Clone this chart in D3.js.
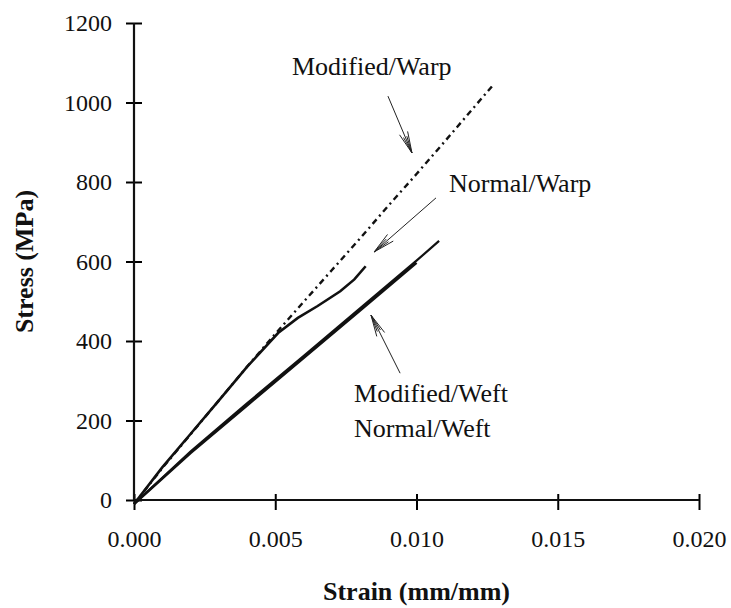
<!DOCTYPE html>
<html>
<head>
<meta charset="utf-8">
<script src="https://cdn.jsdelivr.net/npm/d3@7"></script>
<style>
  body { margin: 0; background: #fff; }
  text { font-family: "Liberation Serif", "Times New Roman", serif; fill: #111; }
</style>
</head>
<body>
<svg width="731" height="608"></svg>
<script>
var width = 731, height = 608;

// strain (mm/mm), stress (MPa)
var modifiedWarp = [[0,-10],[0.001,80],[0.002,165],[0.003,250],[0.004,335],[0.005,418],[0.006,498],
  [0.007,578],[0.008,658],[0.009,740],[0.010,820],[0.011,902],[0.012,985],[0.0127,1043]];
var normalWarp = [[0,-10],[0.001,82],[0.002,166],[0.003,250],[0.004,335],[0.0051,420],[0.0058,458],
  [0.0065,488],[0.0073,525],[0.0078,555],[0.0082,588]];
var modifiedWeft = [[0,-10],[0.002,122],[0.004,243],[0.006,362],[0.008,482],[0.010,602],[0.0108,652]];
var normalWeft = [[0,-10],[0.002,118],[0.004,238],[0.006,357],[0.008,477],[0.0100,597]];

var xTicks = [0, 0.005, 0.010, 0.015, 0.020];
var yTicks = [0, 200, 400, 600, 800, 1000, 1200];

// labels and arrows, in data units
var labels = [
  {text: "Modified/Warp", at: [0.00559, 1069]},
  {text: "Normal/Warp", at: [0.01115, 775]},
  {text: "Modified/Weft", at: [0.00779, 247]},
  {text: "Normal/Weft", at: [0.00779, 158]}
];
var arrows = [
  {from: [0.00899, 1016], to: [0.00984, 873]},
  {from: [0.01069, 760], to: [0.00850, 624]},
  {from: [0.00942, 319], to: [0.00839, 465]}
];

var svg = d3.select('svg');

var x = d3.scaleLinear().domain([0, 0.02]).range([134, 699]);
var y = d3.scaleLinear().domain([0, 1200]).range([500, 23]);

// axes
var yAxis = svg.append('g')
  .attr('transform', 'translate(134,0)')
  .call(d3.axisLeft(y).tickValues(yTicks).tickSize(8).tickPadding(14).tickFormat(d3.format('d')));
yAxis.select('.domain').remove();
yAxis.selectAll('.tick line').attr('x1', 8).attr('stroke-width', 2);
yAxis.selectAll('.tick text').style('font-size', '24px').attr('font-family', null);

var xAxis = svg.append('g')
  .attr('transform', 'translate(0,500)')
  .call(d3.axisBottom(x).tickValues(xTicks).tickSize(10).tickPadding(20).tickFormat(d3.format('.3f')));
xAxis.select('.domain').remove();
xAxis.selectAll('.tick line').attr('y1', -6).attr('stroke-width', 2);
xAxis.selectAll('.tick text').style('font-size', '24px').attr('font-family', null);

svg.append('line').attr('x1', x(0)).attr('x2', x(0)).attr('y1', y(0)).attr('y2', y(1200))
  .attr('stroke', '#111').attr('stroke-width', 2.2);
svg.append('line').attr('x1', x(0)).attr('x2', x(0.02)).attr('y1', y(0)).attr('y2', y(0))
  .attr('stroke', '#111').attr('stroke-width', 2.2);

// titles
svg.append('text')
  .attr('transform', 'translate(33,' + (y(0) + y(1200)) / 2 + ')rotate(-90)')
  .attr('text-anchor', 'middle')
  .style('font-size', '26px').style('font-weight', 'bold')
  .text('Stress (MPa)');
svg.append('text')
  .attr('x', (x(0) + x(0.02)) / 2).attr('y', 600)
  .attr('text-anchor', 'middle')
  .style('font-size', '26px').style('font-weight', 'bold')
  .text('Strain (mm/mm)');

// curves
var line = d3.line().x(function(d) { return x(d[0]); }).y(function(d) { return y(d[1]); });

svg.append('path').datum(normalWeft).attr('d', line)
  .attr('fill', 'none').attr('stroke', '#111').attr('stroke-width', 2.6);
svg.append('path').datum(modifiedWeft).attr('d', line)
  .attr('fill', 'none').attr('stroke', '#111').attr('stroke-width', 2.2);
svg.append('path').datum(normalWarp).attr('d', line)
  .attr('fill', 'none').attr('stroke', '#111').attr('stroke-width', 2.6);
svg.append('path').datum(modifiedWarp).attr('d', line)
  .attr('fill', 'none').attr('stroke', '#111').attr('stroke-width', 2.4)
  .attr('stroke-dasharray', '6,4,2,4');

// labels
svg.selectAll('text.label')
  .data(labels)
  .enter()
  .append('text')
  .attr('class', 'label')
  .attr('x', function(d) { return x(d.at[0]); })
  .attr('y', function(d) { return y(d.at[1]); })
  .style('font-size', '26px')
  .text(function(d) { return d.text; });

// arrows with open heads
arrows.forEach(function(a) {
  var x1 = x(a.from[0]), y1 = y(a.from[1]), x2 = x(a.to[0]), y2 = y(a.to[1]);
  var ang = Math.atan2(y2 - y1, x2 - x1);
  var len = 22, spread = 0.2;
  var p = 'M' + x1 + ',' + y1 + 'L' + x2 + ',' + y2;
  [-spread, spread].forEach(function(s) {
    p += 'M' + x2 + ',' + y2 + 'L' + (x2 - len * Math.cos(ang + s)) + ',' + (y2 - len * Math.sin(ang + s));
  });
  [-spread / 2, spread / 2].forEach(function(s) {
    p += 'M' + x2 + ',' + y2 + 'L' + (x2 - len * 0.8 * Math.cos(ang + s)) + ',' + (y2 - len * 0.8 * Math.sin(ang + s));
  });
  svg.append('path').attr('d', p).attr('fill', 'none').attr('stroke', '#222').attr('stroke-width', 1);
});
</script>
</body>
</html>
